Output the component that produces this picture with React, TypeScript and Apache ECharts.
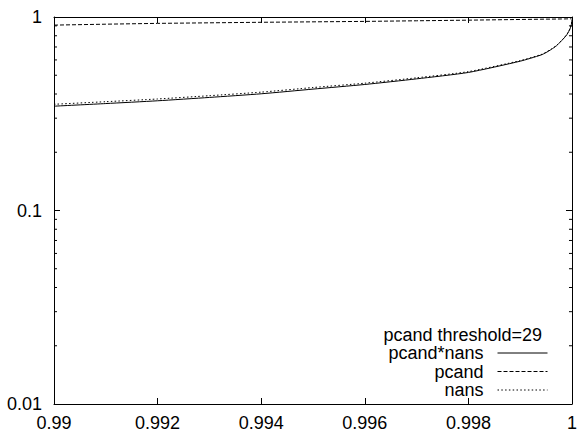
import React, { useEffect, useRef } from "react";
import * as echarts from "echarts";

const xValues = [0.99, 0.991, 0.992, 0.993, 0.994, 0.995, 0.996, 0.997, 0.998, 0.999, 0.9994, 0.9995, 0.9996, 0.9997, 0.9998, 0.99985, 0.9999, 0.99994, 0.99997, 0.99999, 1.0];
const pcandNans = [0.346, 0.357, 0.369, 0.384, 0.401, 0.424, 0.448, 0.479, 0.517, 0.591, 0.636, 0.655, 0.68, 0.71, 0.755, 0.78, 0.81, 0.845, 0.88, 0.92, 0.97];
const pcand = [0.908, 0.918, 0.927, 0.933, 0.939, 0.944, 0.949, 0.956, 0.963, 0.971, 0.974, 0.975, 0.975, 0.976, 0.977, 0.977, 0.978, 0.978, 0.979, 0.979, 0.98];
const nans = [0.354, 0.365, 0.377, 0.392, 0.409, 0.432, 0.455, 0.485, 0.522, 0.595, 0.639, 0.658, 0.683, 0.712, 0.757, 0.782, 0.812, 0.846, 0.881, 0.921, 0.97];
const minorTicks = [0.02, 0.03, 0.04, 0.05, 0.06, 0.07, 0.08, 0.09, 0.2, 0.3, 0.4, 0.5, 0.6, 0.7, 0.8, 0.9];
const seriesNames = ["pcand*nans", "pcand", "nans"];
const legendTitle = "pcand threshold=29";

const FONT = '"Liberation Sans", Arial, Helvetica, sans-serif';

export default function App() {
  const ref = useRef<HTMLDivElement>(null);
  useEffect(() => {
    if (!ref.current) return;
    const chart = echarts.init(ref.current, null, { renderer: "svg" });
    const zip = (ys: number[]) => xValues.map((x, i) => [x, ys[i]]);
    const axisCommon = {
      axisLine: { show: true, onZero: false, lineStyle: { color: "#000", width: 1 } },
      axisTick: { show: true, inside: true, length: 6, lineStyle: { color: "#000", width: 1 } },
      splitLine: { show: false },
    };
    const xFmt = (v: number) => String(+v.toFixed(3));
    const yFmt = (v: number) => String(+v.toPrecision(3));
    chart.setOption({
      animation: false,
      grid: { left: 54, right: 6, top: 17, bottom: 27, containLabel: false },
      xAxis: [
        {
          type: "value", min: 0.99, max: 1, interval: 0.002, position: "bottom",
          ...axisCommon,
          axisLabel: { show: true, color: "#000", fontSize: 18, fontFamily: FONT, margin: 10, formatter: xFmt },
        },
        {
          type: "value", min: 0.99, max: 1, interval: 0.002, position: "top",
          ...axisCommon,
          axisLabel: { show: false },
        },
      ],
      yAxis: [
        {
          type: "log", logBase: 10, min: 0.01, max: 1, position: "left",
          ...axisCommon,
          axisLabel: { show: true, color: "#000", fontSize: 18, fontFamily: FONT, margin: 12, formatter: yFmt },
        },
        {
          type: "log", logBase: 10, min: 0.01, max: 1, position: "right",
          ...axisCommon,
          axisLabel: { show: false },
        },
      ],
      legend: {
        data: seriesNames,
        orient: "vertical",
        align: "right",
        right: 27,
        top: 339,
        itemWidth: 50,
        itemHeight: 10,
        itemGap: 0.5,
        selectedMode: false,
        itemStyle: { opacity: 0 },
        lineStyle: { width: 1 },
        textStyle: { color: "#000", fontSize: 18, fontFamily: FONT, lineHeight: 17, padding: [0, 9, 0, 0] },
      },
      graphic: [
        {
          type: "text",
          x: 542,
          y: 334.5,
          style: {
            text: legendTitle,
            align: "right",
            verticalAlign: "middle",
            textAlign: "right",
            textVerticalAlign: "middle",
            fontSize: 18,
            lineHeight: 18,
            fontFamily: FONT,
            fill: "#000",
          },
        },
      ],
      series: [
        {
          name: seriesNames[0], type: "line", data: zip(pcandNans), symbol: "none", smooth: 0.2,
          lineStyle: { color: "#000", width: 1, type: "solid" }, itemStyle: { color: "#000" },
        },
        {
          name: seriesNames[1], type: "line", data: zip(pcand), symbol: "none",
          lineStyle: { color: "#000", width: 1, type: [4, 2] }, itemStyle: { color: "#000" },
        },
        {
          name: seriesNames[2], type: "line", data: zip(nans), symbol: "none", smooth: 0.2,
          lineStyle: { color: "#000", width: 1, type: [1.5, 2.3] }, itemStyle: { color: "#000" },
        },
        {
          type: "custom",
          silent: true,
          data: minorTicks.map((v) => [0.99, v]),
          renderItem: (_p: any, api: any) => {
            const v = api.value(1);
            const l = api.coord([0.99, v]);
            const r = api.coord([1, v]);
            const st = { stroke: "#000", lineWidth: 1 };
            return {
              type: "group",
              children: [
                { type: "line", shape: { x1: l[0], y1: l[1], x2: l[0] + 3, y2: l[1] }, style: st },
                { type: "line", shape: { x1: r[0] - 3, y1: r[1], x2: r[0], y2: r[1] }, style: st },
              ],
            };
          },
        },
      ],
    });
    return () => chart.dispose();
  }, []);
  return <div ref={ref} style={{ position: "absolute", left: 0, top: 0, width: 580, height: 432, background: "#fff" }} />;
}
